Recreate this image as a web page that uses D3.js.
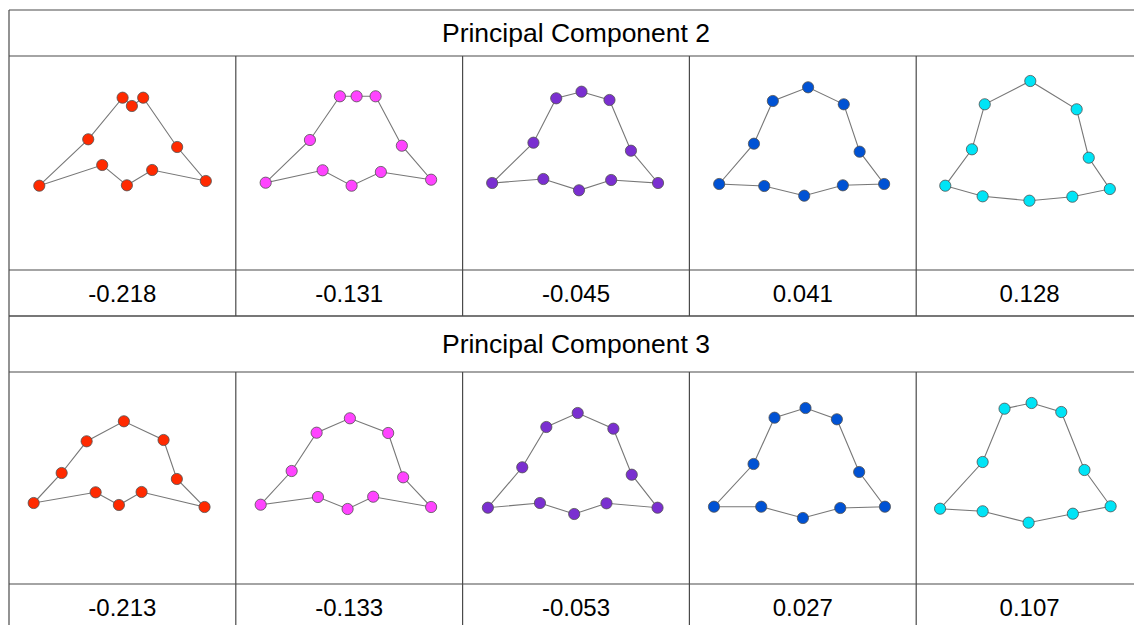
<!DOCTYPE html>
<html>
<head>
<meta charset="utf-8">
<script src="https://cdn.jsdelivr.net/npm/d3@7"></script>
<style>
  body { margin: 0; background: #fff; overflow: hidden; }
  text { font-family: "Liberation Sans", Arial, sans-serif; fill: #000; }
</style>
</head>
<body>
<div id="chart"></div>
<script>
/**
 * DATA
 * */
const componentTitles = ["Principal Component 2", "Principal Component 3"];
const stepColors = ["#ff2a00", "#ff44ff", "#7a2fd0", "#0052d4", "#00e4f6"];
const pc2Values = ["-0.218", "-0.131", "-0.045", "0.041", "0.128"];
const pc3Values = ["-0.213", "-0.133", "-0.053", "0.027", "0.107"];

// landmark outlines, 10 points each, in shape units (x 0..227, y from cell top)
const pc2Shapes = [
  [[30.3,129.7],[79.3,83.3],[113.7,41.7],[123,50],[134.3,41.7],[168.3,91],[197,125],[143.3,114],[118,129.3],[93.3,109]],
  [[29.9,126.7],[74.2,84],[104.2,40.3],[120.9,40.3],[139.9,40.3],[166.2,89.7],[195.5,123.7],[145.2,116],[115.9,129.7],[86.9,114.3]],
  [[29.6,127],[70.9,86.7],[93.7,42.3],[119,35.7],[147,44],[168.5,94.7],[195.6,127],[148.7,124],[116.5,134.3],[80.8,123]],
  [[29.8,128],[64.6,87.7],[83.5,45],[118.8,31.3],[154.5,48.3],[170.4,95.7],[194.9,128],[153.6,129.3],[114.9,139.7],[74.9,130]],
  [[29.1,129.7],[55.8,93.3],[68.6,48.3],[114.2,25],[160.6,53.3],[172.7,101.7],[193.8,133],[156.3,140.7],[113.3,144.7],[66.5,140.3]]
];
const pc3Shapes = [
  [[24.7,131],[52.7,101],[77.7,69.3],[115,49.3],[154.7,68],[168,107],[195.7,135],[132.7,120],[110,133],[86.7,120.3]],
  [[24.9,132.7],[55.9,99],[80.9,60.7],[114.2,46.3],[152.5,61],[167.5,105.3],[195.5,135],[137.5,124.7],[111.9,137],[82.2,125]],
  [[25.3,135.7],[59.7,95.3],[83.8,55],[115.2,41],[150.9,56.7],[169.3,102.7],[195.1,135.7],[144,131.3],[111.7,142],[77.4,131]],
  [[24.6,134.7],[64.2,92],[85.2,45.7],[116.2,36],[147.6,47.3],[169.9,100],[195.7,134.7],[151,136],[113.6,146],[71.9,134.7]],
  [[23.9,136.7],[66.5,90],[88.4,36.7],[115.5,31],[145.2,40],[168.4,98],[194.6,134.3],[156.8,141.7],[112.5,150.7],[66.5,139.3]]
];

/**
 * LAYOUT
 * */
const width = 1134, height = 625;
const tableLeft = 9, tableTop = 10, colWidth = 226.8;
const nCols = pc2Values.length;
const tableRight = tableLeft + colWidth * nCols;
const lineColor = "#4a4a4a";

const svg = d3.select("#chart")
  .append("svg")
  .attr("width", width)
  .attr("height", height);

const colX = d3.scaleBand()
  .domain(d3.range(nCols))
  .range([tableLeft, tableRight]);

const blocks = [
  { title: componentTitles[0], values: pc2Values, shapes: pc2Shapes, headerH: 46, shapeH: 214, valueH: 46 },
  { title: componentTitles[1], values: pc3Values, shapes: pc3Shapes, headerH: 56, shapeH: 212, valueH: 46 }
];

let rowTop = tableTop;
blocks.forEach(b => {
  const g = svg.append("g");
  const shapeTop = rowTop + b.headerH;
  const valueTop = shapeTop + b.shapeH;
  const bottom = valueTop + b.valueH;

  // header row
  g.append("text")
    .attr("x", (tableLeft + tableRight) / 2)
    .attr("y", rowTop + b.headerH / 2 + 9)
    .attr("text-anchor", "middle")
    .style("font-size", "26.5px")
    .text(b.title);

  // shapes
  b.shapes.forEach((pts, i) => {
    const x = d3.scaleLinear().domain([0, 227]).range([colX(i), colX(i) + colWidth]);
    const y = d3.scaleLinear().domain([0, b.shapeH]).range([shapeTop, valueTop]);
    const cell = g.append("g");

    cell.append("path")
      .datum(pts)
      .attr("d", d3.line().x(d => x(d[0])).y(d => y(d[1])).curve(d3.curveLinearClosed))
      .attr("fill", "none")
      .attr("stroke", "#777")
      .attr("stroke-width", 1.1);

    cell.selectAll("circle")
      .data(pts)
      .join("circle")
      .attr("cx", d => x(d[0]))
      .attr("cy", d => y(d[1]))
      .attr("r", 5.6)
      .attr("fill", stepColors[i])
      .attr("stroke", "#505050")
      .attr("stroke-width", 0.8);
  });

  // value row
  g.selectAll("text.val")
    .data(b.values)
    .join("text")
    .attr("class", "val")
    .attr("x", (d, i) => colX(i) + colWidth / 2)
    .attr("y", valueTop + b.valueH / 2 + 9)
    .attr("text-anchor", "middle")
    .style("font-size", "24px")
    .text(d => d);

  // grid lines
  [rowTop, shapeTop, valueTop, bottom].forEach(yy => {
    g.append("line")
      .attr("x1", tableLeft).attr("x2", tableRight)
      .attr("y1", yy).attr("y2", yy)
      .attr("stroke", lineColor).attr("stroke-width", 1.2);
  });
  g.append("line")
    .attr("x1", tableLeft).attr("x2", tableLeft)
    .attr("y1", rowTop).attr("y2", bottom)
    .attr("stroke", lineColor).attr("stroke-width", 1.2);
  d3.range(1, nCols + 1).forEach(i => {
    const xx = i < nCols ? colX(i) : tableRight;
    g.append("line")
      .attr("x1", xx).attr("x2", xx)
      .attr("y1", shapeTop).attr("y2", bottom)
      .attr("stroke", lineColor).attr("stroke-width", 1.2);
  });

  rowTop = bottom;
});
</script>
</body>
</html>
